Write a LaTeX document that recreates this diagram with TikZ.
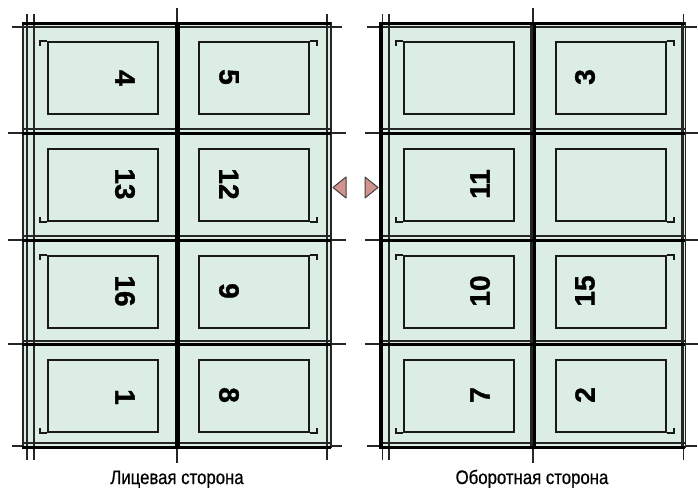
\documentclass[tikz,border=0pt]{standalone}
\usepackage{fontspec}
\setmainfont{Liberation Sans}
\newfontfamily\labelfont{Liberation Sans}[FakeStretch=0.86,FakeBold=0.6]
\newfontfamily\numberfont{Liberation Sans Bold}[FakeBold=1.2]
\definecolor{sheetgreen}{RGB}{220,237,227}
\definecolor{markpink}{RGB}{210,146,142}
\begin{document}
\begin{tikzpicture}[x=1pt,y=-1pt,
  thinln/.style={line width=1.5pt,black!85},
  thickln/.style={line width=3pt,black},
  foldln/.style={line width=5pt,black},
  pagebox/.style={draw,line width=1.7pt,black!90,minimum width=110pt,minimum height=72pt,inner sep=0pt,anchor=north west},
  pagenum/.style={font=\numberfont\fontsize{28}{28}\selectfont,inner sep=0pt},
  sidelabel/.style={font=\labelfont\fontsize{19.5}{20}\selectfont,inner sep=0pt,anchor=base},
  hookln/.style={line width=1.6pt,black!90},
  marktri/.style={fill=markpink,draw=black!75,line width=1pt,line join=round}]
\useasboundingbox (0,0) rectangle (698,487);

% ---------- sheet fills ----------
\fill[sheetgreen] (22,24) rectangle (331,447);
\fill[sheetgreen] (380,24) rectangle (685,447);

% ---------- left sheet lines ----------
\foreach \y in {129,236,341,443} \draw[thinln] (22,\y) -- (331,\y);
\draw[thinln] (12,27) -- (342,27);
\draw[thinln] (12,446) -- (22,446) (331,446) -- (342,446);
\foreach \y in {133,240,344} \draw[thinln] (8,\y) -- (22,\y) (331,\y) -- (346,\y);
\foreach \x in {27,34,327} \draw[thinln] (\x,14) -- (\x,460);
\foreach \x in {23,331} \draw[thinln] (\x,22) -- (\x,448);
\draw[thinln] (177,8) -- (177,463);
\draw[foldln] (177,22) -- (177,449);
\foreach \y in {24,133,240,344,447} \draw[thickln] (22,\y) -- (331,\y);

% ---------- right sheet lines ----------
\foreach \y in {129,236,341,443} \draw[thinln] (380,\y) -- (685,\y);
\draw[thinln] (367,27) -- (697,27);
\draw[thinln] (367,446) -- (380,446) (685,446) -- (697,446);
\foreach \y in {133,240,344} \draw[thinln] (365,\y) -- (380,\y) (685,\y) -- (698,\y);
\foreach \x in {382.5,389,683.5} \draw[thinln] (\x,14) -- (\x,460);
\foreach \x in {531,682,685.5} \draw[thinln] (\x,22) -- (\x,448);
\draw[thinln] (533,8) -- (533,463);
\draw[line width=2.4pt] (534.5,22) -- (534.5,449);
\draw[line width=4pt] (380.5,22) -- (380.5,449);
\foreach \y in {24,133,240,344,447} \draw[thickln] (380,\y) -- (685,\y);

% ---------- page frames ----------
% left sheet
\node[pagebox] (L1a) at (47,41) {};
\node[pagebox] (L1b) at (198,41) {};
\node[pagebox] (L2a) at (47,148) {};
\node[pagebox] (L2b) at (198,148) {};
\node[pagebox] (L3a) at (47,255) {};
\node[pagebox] (L3b) at (198,255) {};
\node[pagebox] (L4a) at (47,359) {};
\node[pagebox] (L4b) at (198,359) {};
% right sheet
\node[pagebox] (R1a) at (403,41) {};
\node[pagebox] (R1b) at (555,41) {};
\node[pagebox] (R2a) at (403,148) {};
\node[pagebox] (R2b) at (555,148) {};
\node[pagebox] (R3a) at (403,255) {};
\node[pagebox] (R3b) at (555,255) {};
\node[pagebox] (R4a) at (403,359) {};
\node[pagebox] (R4b) at (555,359) {};

% ---------- corner hooks ----------
\foreach \n in {L1a,L3a,R1a,R3a} \draw[hookln] (\n.north west) -- ++(-7,0) -- ++(0,5);
\foreach \n in {L1b,L3b,R1b,R3b} \draw[hookln] (\n.north east) -- ++(7,0) -- ++(0,5);
\foreach \n in {L2a,L4a,R2a,R4a} \draw[hookln] (\n.south west) -- ++(-7,0) -- ++(0,-5);
\foreach \n in {L2b,L4b,R2b,R4b} \draw[hookln] (\n.south east) -- ++(7,0) -- ++(0,-5);

% ---------- page numbers ----------
\node[pagenum,rotate=-90] (n4)  at (125,78)  {4};
\node[pagenum,rotate=-90] (n5)  at (229,77)  {5};
\node[pagenum,rotate=-90] (n13) at (125,184) {13};
\node[pagenum,rotate=-90] (n12) at (229,184) {12};
\node[pagenum,rotate=-90] (n16) at (125,291) {16};
\node[pagenum,rotate=-90] (n9)  at (229,291) {9};
\node[pagenum,rotate=-90] (n1)  at (125,397) {1};
\node[pagenum,rotate=-90] (n8)  at (229,395) {8};

\node[pagenum,rotate=90] (n3)  at (585,77)  {3};
\node[pagenum,rotate=90] (n11) at (480,184) {11};
\node[pagenum,rotate=90] (n10) at (480,291) {10};
\node[pagenum,rotate=90] (n15) at (585,291) {15};
\node[pagenum,rotate=90] (n7)  at (480,395) {7};
\node[pagenum,rotate=90] (n2)  at (585,395) {2};

% ---------- register marks ----------
\draw[marktri] (333,187.5) -- (346,177) -- (346,198) -- cycle;
\draw[marktri] (378,187.5) -- (365,177) -- (365,198) -- cycle;

% ---------- labels ----------
\node[sidelabel] (lab1) at (177,484) {Лицевая сторона};
\node[sidelabel] (lab2) at (532,484) {Оборотная сторона};
\end{tikzpicture}
\end{document}
